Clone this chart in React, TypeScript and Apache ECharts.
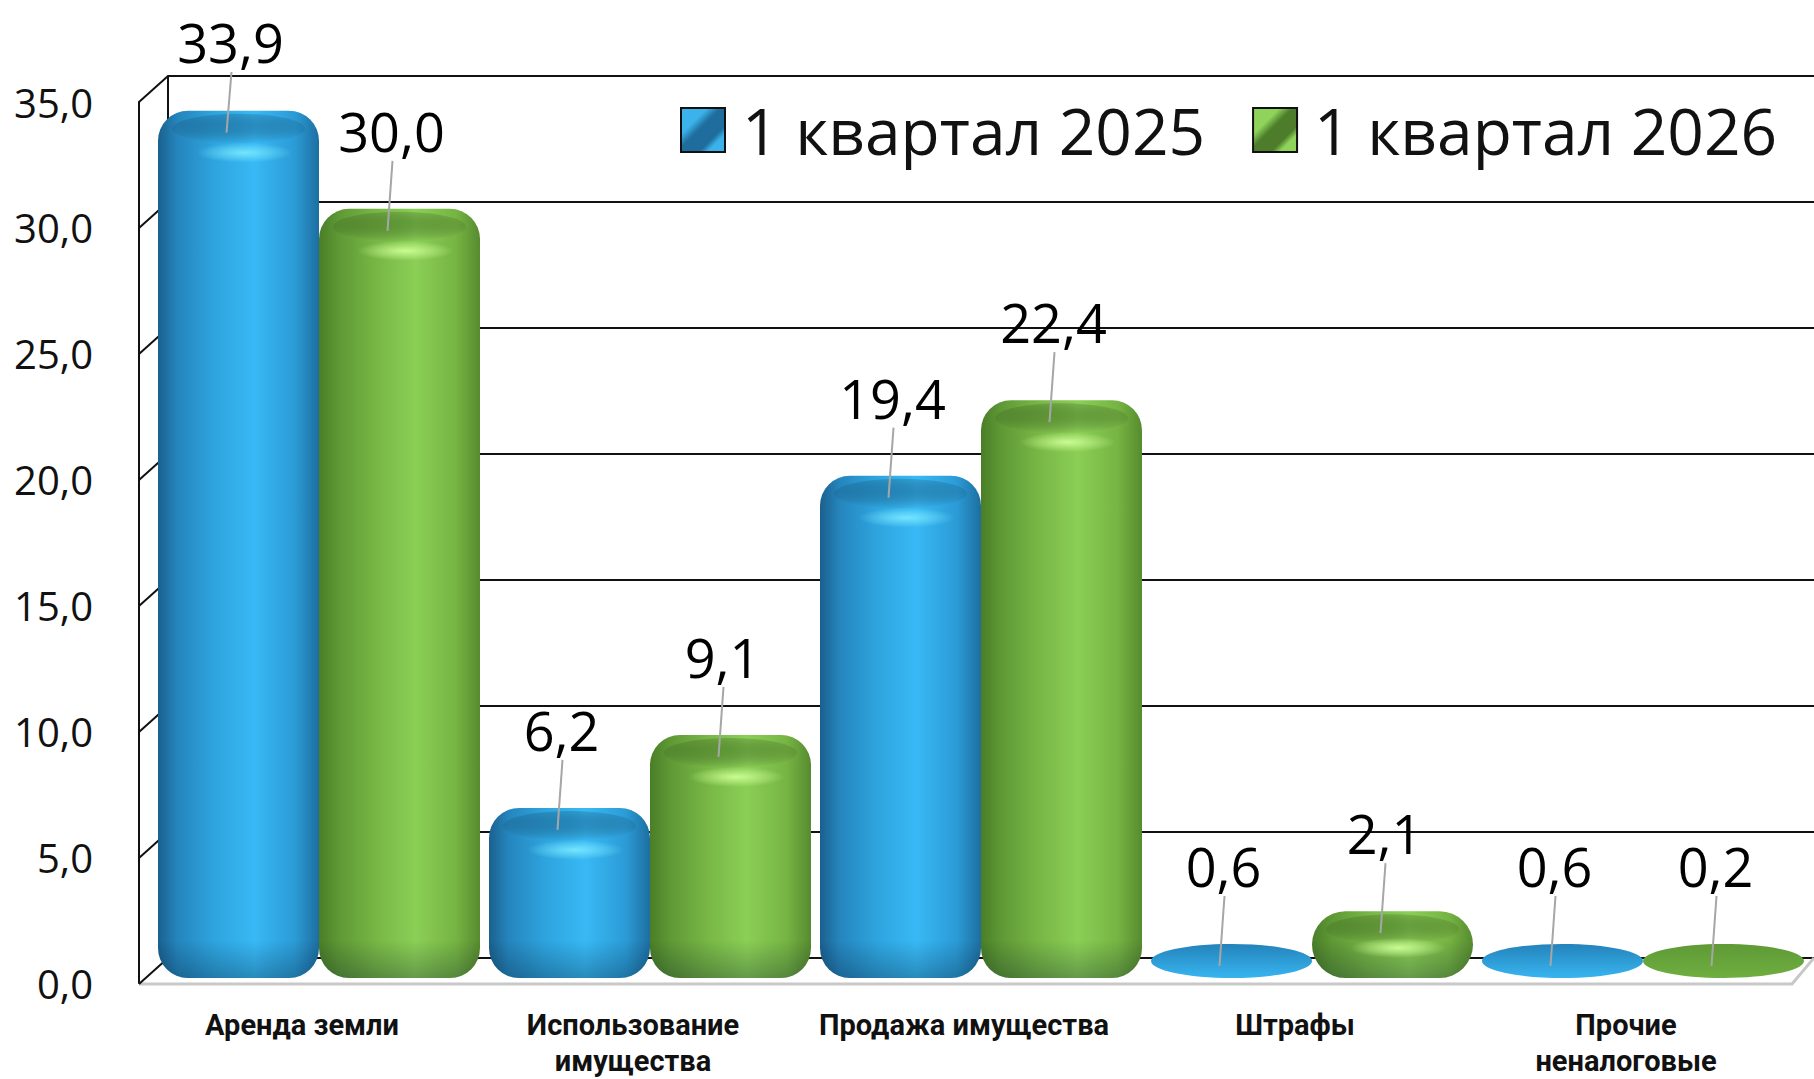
import React, { useEffect, useRef } from "react";
import * as echarts from "echarts";

// ---- data ----
const categories = [
  "Аренда земли",
  "Использование\nимущества",
  "Продажа имущества",
  "Штрафы",
  "Прочие\nненалоговые",
];
const seriesNames = ["1 квартал 2025", "1 квартал 2026"];
const q2025 = [33.9, 6.2, 19.4, 0.6, 0.6];
const q2026 = [30.0, 9.1, 22.4, 2.1, 0.2];
const Y_MIN = 0;
const Y_MAX = 35;
const Y_STEP = 5;
const yTicks = [0, 5, 10, 15, 20, 25, 30, 35];

const fmt = (v: number) => v.toFixed(1).replace(".", ",");

const palettes = [
  {
    body: [
      [0, "#1b608e"],
      [0.12, "#2585bd"],
      [0.35, "#2ea4de"],
      [0.6, "#38b9f5"],
      [0.85, "#2b9bd6"],
      [1, "#1d6ea0"],
    ],
    cap: "rgba(22,92,140,0.5)",
    hi: "120,232,255",
    diskTop: "#2483bb",
    diskBottom: "#38b5f0",
    legendOuter: "#3bb2ea",
    legendInner: "#1f6d9c",
  },
  {
    body: [
      [0, "#4a7e27"],
      [0.12, "#5e9835"],
      [0.35, "#77b645"],
      [0.6, "#8bcf56"],
      [0.85, "#76b443"],
      [1, "#578b2f"],
    ],
    cap: "rgba(60,110,30,0.5)",
    hi: "205,255,150",
    diskTop: "#5f9a36",
    diskBottom: "#6fae40",
    legendOuter: "#8fd35a",
    legendInner: "#4d7d2a",
  },
];

function makeBarRenderer(sIdx: number) {
  const pal = palettes[sIdx];
  return (params: any, api: any) => {
    const ci = api.value(0);
    const v = api.value(1);
    const topPt = api.coord([ci, v]);
    const basePt = api.coord([ci, 0]);
    const band = api.size([1, 0])[0];
    const barW = (band - 9) / 2;
    const cx = topPt[0] + (sIdx === 0 ? -barW / 2 : barW / 2);
    const bottom = basePt[1] + 14;
    const top = Math.min(topPt[1], bottom - 34);
    const h = bottom - top;
    const x0 = cx - barW / 2;
    const children: any[] = [];
    if (h < 44) {
      children.push({
        type: "ellipse",
        shape: { cx, cy: (top + bottom) / 2, rx: barW / 2, ry: h / 2 },
        style: {
          fill: {
            type: "linear",
            x: 0,
            y: 0,
            x2: 0,
            y2: 1,
            colorStops: [
              { offset: 0, color: pal.diskTop },
              { offset: 1, color: pal.diskBottom },
            ],
          },
        },
      });
    } else {
      const r = h < 90 ? h / 2 : 30;
      children.push({
        type: "rect",
        shape: { x: x0, y: top, width: barW, height: h, r },
        style: {
          fill: {
            type: "linear",
            x: 0,
            y: 0,
            x2: 1,
            y2: 0,
            colorStops: pal.body.map((s: any) => ({ offset: s[0], color: s[1] })),
          },
        },
      });
      const shadeStart = Math.max(0, (h - 38) / h);
      children.push({
        type: "rect",
        shape: { x: x0, y: top, width: barW, height: h, r },
        style: {
          fill: {
            type: "linear",
            x: 0,
            y: 0,
            x2: 0,
            y2: 1,
            colorStops: [
              { offset: 0, color: "rgba(0,20,40,0)" },
              { offset: shadeStart, color: "rgba(0,20,40,0)" },
              { offset: 1, color: "rgba(0,20,40,0.28)" },
            ],
          },
        },
      });
      children.push({
        type: "ellipse",
        shape: { cx, cy: top + 18, rx: barW / 2 - 14, ry: 15 },
        style: {
          fill: {
            type: "radial",
            x: 0.5,
            y: 0.4,
            r: 0.6,
            colorStops: [
              { offset: 0, color: pal.cap },
              { offset: 1, color: "rgba(0,0,0,0)" },
            ],
          },
        },
      });
      children.push({
        type: "ellipse",
        shape: { cx: cx + 6, cy: top + Math.min(42, h * 0.55), rx: barW * 0.3, ry: 10 },
        style: {
          fill: {
            type: "radial",
            x: 0.5,
            y: 0.5,
            r: 0.5,
            colorStops: [
              { offset: 0, color: `rgba(${pal.hi},0.95)` },
              { offset: 1, color: `rgba(${pal.hi},0)` },
            ],
          },
        },
      });
    }
    // leader line + label
    const labelY = Math.max(top - 78, 42);
    children.push({
      type: "line",
      shape: {
        x1: cx - 7,
        y1: labelY + 30,
        x2: cx - 12,
        y2: top + Math.min(22, h * 0.7),
      },
      style: { stroke: "#a6a6a6", lineWidth: 2 },
    });
    children.push({
      type: "text",
      style: {
        text: fmt(v),
        x: cx - 8,
        y: labelY,
        fill: "#000",
        fontSize: 54,
        lineHeight: 56,
        fontFamily: "Open Sans",
        align: "center",
        verticalAlign: "middle",
      },
    });
    return { type: "group", children };
  };
}

function renderWalls(params: any, api: any) {
  const v = api.value(1);
  const p = api.coord([0, v]);
  const children: any[] = [
    {
      type: "line",
      shape: { x1: p[0], y1: p[1], x2: p[0] - 29, y2: p[1] + 26 },
      style: { stroke: "#111", lineWidth: 2 },
    },
  ];
  if (v === Y_MIN) {
    const q = api.coord([1, Y_MIN]);
    children.unshift({
      type: "polyline",
      shape: {
        points: [
          [p[0] - 29, p[1] + 26],
          [q[0] - 22, q[1] + 26],
          [q[0], q[1]],
        ],
      },
      style: { stroke: "#c8c8c8", lineWidth: 3, fill: null },
    });
  }
  return { type: "group", children };
}

function legendIcon(i: number) {
  const pal = palettes[i];
  return {
    color: {
      type: "linear",
      x: 0,
      y: 0,
      x2: 1,
      y2: 1,
      colorStops: [
        { offset: 0, color: pal.legendOuter },
        { offset: 0.3, color: pal.legendOuter },
        { offset: 0.45, color: pal.legendInner },
        { offset: 0.7, color: pal.legendInner },
        { offset: 0.8, color: pal.legendOuter },
        { offset: 1, color: pal.legendOuter },
      ],
    },
    borderColor: "#111",
    borderWidth: 2,
  };
}

export default function App() {
  const ref = useRef<HTMLDivElement>(null);
  useEffect(() => {
    document.body.style.margin = "0";
    if (!ref.current) return;
    const chart = echarts.init(ref.current, undefined, { renderer: "svg" });
    const option: any = {
      animation: false,
      backgroundColor: "#ffffff",
      grid: [
        { left: 168, top: 76, width: 1646, height: 882 },
        { left: 139, top: 102, width: 1650, height: 881 },
        { left: 153.5, top: 83, width: 1655, height: 882 },
      ],
      xAxis: [
        { gridIndex: 0, type: "value", min: 0, max: 1, show: false },
        { gridIndex: 1, type: "value", min: 0, max: 1, show: false },
        {
          gridIndex: 2,
          type: "category",
          data: categories,
          axisLine: { show: false },
          axisTick: { show: false },
          axisLabel: {
            margin: 43,
            fontSize: 29,
            fontWeight: "bold",
            fontFamily: "Roboto",
            color: "#111",
            lineHeight: 36,
            padding: [0, 34, 0, 0],
            interval: 0,
          },
        },
      ],
      yAxis: [
        {
          gridIndex: 0,
          type: "value",
          min: Y_MIN,
          max: Y_MAX,
          interval: Y_STEP,
          axisLine: { show: true, lineStyle: { color: "#111", width: 2 } },
          axisTick: { show: false },
          axisLabel: { show: false },
          splitLine: { show: true, lineStyle: { color: "#111", width: 2 } },
        },
        {
          gridIndex: 1,
          type: "value",
          min: Y_MIN,
          max: Y_MAX,
          interval: Y_STEP,
          axisLine: { show: true, lineStyle: { color: "#111", width: 2 } },
          axisTick: { show: false },
          splitLine: { show: false },
          axisLabel: {
            margin: 46,
            fontSize: 40,
            fontFamily: "Open Sans",
            color: "#111",
            padding: [18, 0, 0, 0],
            formatter: (v: number) => fmt(v),
          },
        },
        {
          gridIndex: 2,
          type: "value",
          min: Y_MIN,
          max: Y_MAX,
          interval: Y_STEP,
          show: false,
        },
      ],
      legend: {
        left: 675,
        top: 87,
        itemWidth: 44,
        itemHeight: 44,
        itemGap: 47,
        icon: "rect",
        textStyle: {
          fontSize: 64,
          fontFamily: "Open Sans",
          color: "#111",
          lineHeight: 76,
          padding: [0, 0, 0, 12],
        },
        data: seriesNames.map((n, i) => ({ name: n, itemStyle: legendIcon(i) })),
      },
      series: [
        {
          type: "custom",
          name: "walls",
          xAxisIndex: 0,
          yAxisIndex: 0,
          z: 1,
          silent: true,
          clip: false,
          renderItem: renderWalls,
          data: yTicks.map((t) => [0, t]),
          encode: { x: 0, y: 1 },
        },
        {
          type: "custom",
          name: seriesNames[0],
          xAxisIndex: 2,
          yAxisIndex: 2,
          z: 3,
          clip: false,
          itemStyle: { color: palettes[0].legendOuter },
          renderItem: makeBarRenderer(0),
          data: q2025.map((v, i) => [i, v]),
          encode: { x: 0, y: 1 },
        },
        {
          type: "custom",
          name: seriesNames[1],
          xAxisIndex: 2,
          yAxisIndex: 2,
          z: 3,
          clip: false,
          itemStyle: { color: palettes[1].legendOuter },
          renderItem: makeBarRenderer(1),
          data: q2026.map((v, i) => [i, v]),
          encode: { x: 0, y: 1 },
        },
      ],
    };
    chart.setOption(option);
    return () => chart.dispose();
  }, []);
  return <div ref={ref} style={{ width: 1814, height: 1079 }} />;
}
